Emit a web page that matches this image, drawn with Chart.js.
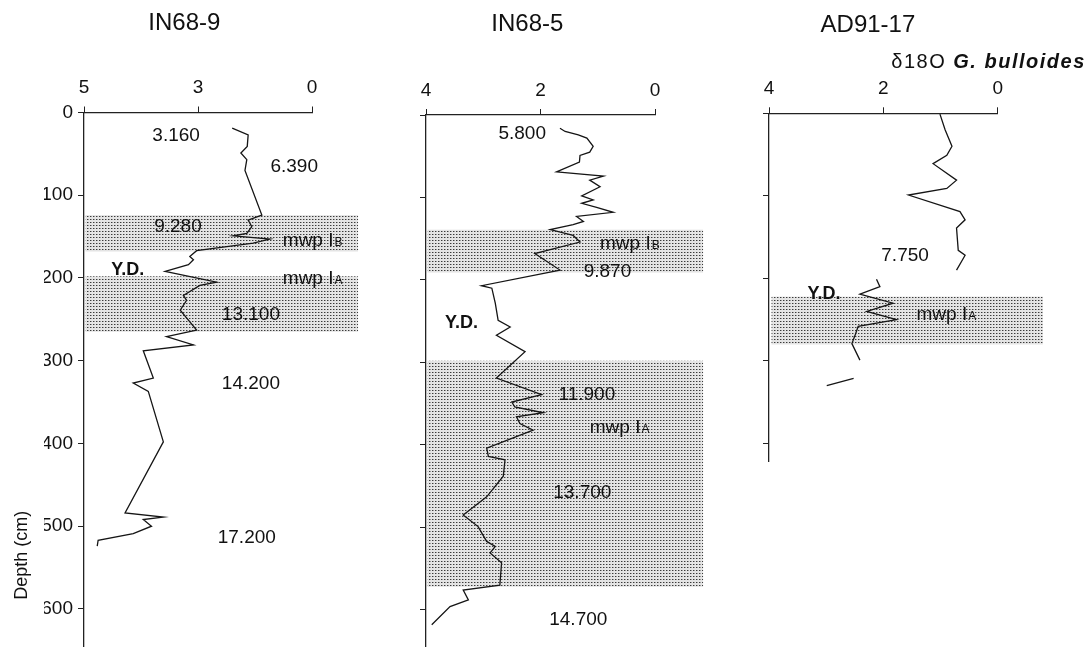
<!DOCTYPE html>
<html>
<head>
<meta charset="utf-8">
<title>δ18O G. bulloides – IN68-9, IN68-5, AD91-17</title>
<script src="https://cdn.jsdelivr.net/npm/chart.js@4.4.1/dist/chart.umd.min.js"></script>
<style>
  html, body { margin: 0; padding: 0; background: #fff; }
  #wrap { position: relative; width: 1088px; height: 647px; overflow: hidden; }
  #wrap canvas { position: absolute; left: 0; top: 0; }
</style>
</head>
<body>
<div id="wrap">
  <canvas id="c1" width="1088" height="647"></canvas>
  <canvas id="c2" width="1088" height="647"></canvas>
  <canvas id="c3" width="1088" height="647"></canvas>
</div>
<script>
// --- data (d18O, depth in cm) ---

// IN68-9 (axis marked 5 / 3 / 0, middle mark sits halfway)
const IN68_9_D18O = [1.75, 1.40, 1.42, 1.56, 1.43, 1.47, 1.10, 1.40, 1.32, 1.43, 1.73, 0.92, 1.29,
  2.53, 2.68, 2.60, 2.71, 3.22, 2.09, 2.46, 2.82, 2.75, 2.89, 2.53, 3.19, 2.60, 3.70, 3.48, 3.92,
  3.59, 3.26, 4.10, 3.26, 3.70, 3.52, 3.92, 4.69, 4.71];
const IN68_9_DEPTH = [19, 27, 41, 49, 57, 70, 124, 130, 138, 146, 149, 153, 158,
  167, 174, 178, 184, 192, 205, 209, 221, 227, 239, 263, 271, 281, 288, 321, 327,
  337, 398, 484, 489, 492, 500, 509, 517, 524];
const IN68_9_BANDS = [[124, 168], [198, 265]];
const IN68_9_TICK_VALUES = [5, 2.5, 0];
const IN68_9_TICK_LABELS = ['5', '3', '0'];

// IN68-5
const IN68_5_D18O = [1.66, 1.57, 1.34, 1.19, 1.08, 1.14, 1.31, 1.32, 1.72, 0.90, 1.14, 0.96, 1.28,
  1.08, 1.28, 1.02, 0.73, 1.37, 1.25, 1.43, 1.83, 1.43, 1.31, 2.10, 1.66, 3.03, 2.85, 2.79, 2.74,
  2.53, 2.77, 2.27, 2.77, 1.98, 2.50, 2.45, 1.95, 2.42, 2.36, 2.13, 2.50, 2.94, 2.91, 2.62, 2.65,
  2.94, 3.35, 3.09, 2.94, 2.79, 2.88, 2.68, 2.71, 3.35, 3.26, 3.58, 3.90];
const IN68_5_DEPTH = [16, 20, 24, 28, 38, 45, 49, 57, 69, 74, 79, 87, 98,
  103, 107, 112, 118, 123, 129, 133, 139, 146, 154, 168, 188, 207, 210, 228, 249,
  257, 267, 287, 319, 339, 348, 354, 361, 366, 374, 382, 392, 404, 414, 418, 438,
  463, 485, 499, 517, 523, 531, 543, 570, 576, 588, 596, 618];
const IN68_5_BANDS = [[139, 191], [298, 572]];
const IN68_5_TICK_VALUES = [4, 2, 0];
const IN68_5_TICK_LABELS = ['4', '2', '0'];

// AD91-17 (null = break in the record)
const AD91_17_D18O = [1.01, 0.92, 0.80, 0.89, 1.13, 0.72, 0.89, 1.56, 0.66, 0.57, 0.72, 0.69, 0.57, 0.72,
  null, 2.12, 2.06, 2.41, 1.83, 2.29, 1.77, 2.44, 2.49, 2.55, 2.41,
  null, 2.52, 2.99];
const AD91_17_DEPTH = [1, 20, 40, 51, 61, 81, 91, 99, 119, 129, 139, 166, 172, 190,
  null, 201, 210, 219, 230, 240, 250, 258, 268, 279, 299,
  null, 321, 330];
const AD91_17_BANDS = [[222, 280]];
const AD91_17_TICK_VALUES = [4, 2, 0];
const AD91_17_TICK_LABELS = ['4', '2', '0'];

const DEPTH_TICKS = [0, 100, 200, 300, 400, 500, 600];

// text notes: [text, subscript, d18O, depth, kind]
const IN68_9_NOTES = [
  ['3.160', '', 2.98, 28, 'age'],
  ['6.390', '', 0.39, 65, 'age'],
  ['9.280', '', 2.94, 138, 'age'],
  ['mwp I', 'B', 0.64, 155, 'mwp'],
  ['Y.D.', '', 4.04, 190, 'yd'],
  ['mwp I', 'A', 0.64, 201, 'mwp'],
  ['13.100', '', 1.34, 245, 'age'],
  ['14.200', '', 1.34, 328, 'age'],
  ['17.200', '', 1.43, 514, 'age']
];
const IN68_5_NOTES = [
  ['5.800', '', 2.32, 23, 'age'],
  ['mwp I', 'B', 0.96, 156, 'mwp'],
  ['9.870', '', 0.83, 190, 'age'],
  ['Y.D.', '', 3.38, 252, 'yd'],
  ['11.900', '', 1.19, 339, 'age'],
  ['mwp I', 'A', 1.14, 379, 'mwp'],
  ['13.700', '', 1.27, 458, 'age'],
  ['14.700', '', 1.34, 612, 'age']
];
const AD91_17_NOTES = [
  ['7.750', '', 1.62, 172, 'age'],
  ['Y.D.', '', 3.04, 219, 'yd'],
  ['mwp I', 'A', 1.42, 244, 'mwp']
];

const FONT = '"Liberation Sans", Arial, sans-serif';
const INK = '#111';

// grey dotted screen used for the meltwater-pulse bands
function stipple() {
  const c = document.createElement('canvas');
  c.width = 3; c.height = 3;
  const g = c.getContext('2d');
  g.fillStyle = '#e4e4e4';
  g.fillRect(0, 0, 3, 3);
  g.fillStyle = '#3a3a3a';
  g.fillRect(0, 0, 1, 1);
  g.fillStyle = '#9a9a9a';
  g.fillRect(1, 0, 1, 1);
  return c;
}
const SCREEN = stipple();

// drop the half-label margins Chart.js reserves at the axis ends
function fixBox(size, horizontal) {
  return s => {
    if (horizontal) s.height = size; else s.width = size;
    s.paddingTop = 0; s.paddingBottom = 0; s.paddingLeft = 0; s.paddingRight = 0;
  };
}

const decor = {
  id: 'decor',
  beforeDatasetsDraw(chart, args, o) {
    const { ctx, chartArea: a, scales: { x, y } } = chart;
    ctx.save();
    ctx.fillStyle = ctx.createPattern(SCREEN, 'repeat');
    const left = a.left + o.bandInset;
    const right = x.getPixelForValue(o.bandEnd);
    o.bands.forEach(([d0, d1]) => {
      const top = y.getPixelForValue(d0);
      ctx.fillRect(left, top, right - left, y.getPixelForValue(d1) - top);
    });
    ctx.restore();
  },
  afterDraw(chart, args, o) {
    const { ctx, chartArea: a, scales: { x, y } } = chart;
    ctx.save();
    ctx.fillStyle = INK;
    ctx.textBaseline = 'middle';

    // core name
    ctx.font = '24px ' + FONT;
    ctx.textAlign = 'center';
    ctx.fillText(o.title, x.getPixelForValue(o.titleAt), a.top - o.titleRise);

    o.notes.forEach(([text, sub, v, d, kind]) => {
      const px = x.getPixelForValue(v);
      const py = y.getPixelForValue(d);
      if (kind === 'yd') {
        ctx.font = 'bold 18px ' + FONT;
        ctx.textAlign = 'center';
        ctx.fillText(text, px, py);
      } else if (kind === 'mwp') {
        ctx.font = '19px ' + FONT;
        ctx.textAlign = 'left';
        ctx.fillText(text, px, py);
        const w = ctx.measureText(text).width;
        ctx.font = '12px ' + FONT;
        ctx.fillText(sub, px + w + 1, py + 2);
      } else {
        ctx.font = '19px ' + FONT;
        ctx.textAlign = 'center';
        ctx.fillText(text, px, py);
      }
    });

    if (o.depthTitle) {
      ctx.save();
      ctx.translate(a.left - 62, y.getPixelForValue(535));
      ctx.rotate(-Math.PI / 2);
      ctx.font = '18px ' + FONT;
      ctx.textAlign = 'center';
      ctx.fillText('Depth (cm)', 0, 0);
      ctx.restore();
    }

    if (o.isotopeTitle) {
      const right = x.getPixelForValue(-1.54);
      const py = a.top - 51;
      ctx.textAlign = 'left';
      ctx.letterSpacing = '1.5px';
      ctx.font = 'bold italic 20px ' + FONT;
      const w2 = ctx.measureText('G. bulloides').width;
      ctx.font = '20px ' + FONT;
      const w1 = ctx.measureText('δ18O ').width;
      ctx.fillText('δ18O ', right - w1 - w2, py);
      ctx.font = 'bold italic 20px ' + FONT;
      ctx.fillText('G. bulloides', right - w2, py);
    }
    ctx.restore();
  }
};

function makePanel(p) {
  const points = p.values.map((v, i) => ({ x: v, y: p.depths[i] }));
  return new Chart(document.getElementById(p.id), {
    type: 'line',
    data: {
      datasets: [{
        data: points,
        borderColor: '#151515',
        borderWidth: 1.3,
        borderJoinStyle: 'miter',
        pointRadius: 0,
        tension: 0,
        spanGaps: false,
        clip: false
      }]
    },
    options: {
      responsive: false,
      animation: false,
      events: [],
      layout: { padding: p.padding },
      plugins: {
        legend: { display: false },
        tooltip: { enabled: false },
        decor: {
          bands: p.bands,
          bandInset: p.bandInset,
          bandEnd: p.bandEnd,
          notes: p.notes,
          title: p.title,
          titleAt: p.titleAt,
          titleRise: p.titleRise,
          depthTitle: !!p.depthTitle,
          isotopeTitle: !!p.isotopeTitle
        }
      },
      scales: {
        x: {
          type: 'linear',
          position: 'top',
          reverse: true,
          min: 0,
          max: p.xMax,
          afterFit: fixBox(40, true),
          afterBuildTicks: s => { s.ticks = p.tickValues.map(v => ({ value: v })); },
          ticks: {
            autoSkip: false,
            maxRotation: 0,
            padding: 7,
            color: INK,
            font: { family: FONT, size: 19 },
            callback: v => p.tickLabels[p.tickValues.indexOf(v)]
          },
          grid: { drawOnChartArea: false, tickLength: 6, color: '#222', lineWidth: 1 },
          border: { color: '#222', width: 1.3 }
        },
        y: {
          type: 'linear',
          reverse: true,
          min: 0,
          max: p.yMax,
          afterFit: fixBox(40, false),
          afterBuildTicks: s => { s.ticks = DEPTH_TICKS.filter(v => v <= p.yMax).map(v => ({ value: v })); },
          ticks: {
            display: !!p.depthLabels,
            autoSkip: false,
            padding: 5,
            color: INK,
            font: { family: FONT, size: 19 }
          },
          grid: { drawOnChartArea: false, tickLength: 6, color: '#222', lineWidth: 1 },
          border: { color: '#222', width: 1.3 }
        }
      }
    },
    plugins: [decor]
  });
}

makePanel({
  id: 'c1', title: 'IN68-9', titleAt: 2.8, titleRise: 89,
  values: IN68_9_D18O, depths: IN68_9_DEPTH, bands: IN68_9_BANDS, notes: IN68_9_NOTES,
  tickValues: IN68_9_TICK_VALUES, tickLabels: IN68_9_TICK_LABELS,
  xMax: 5, yMax: 646, bandInset: 1.5, bandEnd: -1.01,
  padding: { left: 44, top: 72.5, right: 776, bottom: 0 },
  depthLabels: true, depthTitle: true
});

makePanel({
  id: 'c2', title: 'IN68-5', titleAt: 2.23, titleRise: 91,
  values: IN68_5_D18O, depths: IN68_5_DEPTH, bands: IN68_5_BANDS, notes: IN68_5_NOTES,
  tickValues: IN68_5_TICK_VALUES, tickLabels: IN68_5_TICK_LABELS,
  xMax: 4, yMax: 645, bandInset: 1.5, bandEnd: -0.84,
  padding: { left: 386, top: 75, right: 433, bottom: 0 }
});

makePanel({
  id: 'c3', title: 'AD91-17', titleAt: 2.27, titleRise: 88,
  values: AD91_17_D18O, depths: AD91_17_DEPTH, bands: AD91_17_BANDS, notes: AD91_17_NOTES,
  tickValues: AD91_17_TICK_VALUES, tickLabels: AD91_17_TICK_LABELS,
  xMax: 4, yMax: 422, bandInset: 2.5, bandEnd: -0.79,
  padding: { left: 729, top: 73.3, right: 90.3, bottom: 185.3 },
  isotopeTitle: true
});
</script>
</body>
</html>
